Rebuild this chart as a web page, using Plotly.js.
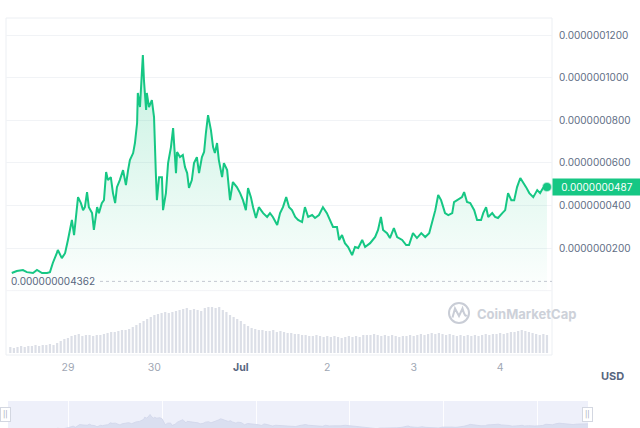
<!DOCTYPE html>
<html>
<head>
<meta charset="utf-8">
<script src="https://cdn.plot.ly/plotly-3.0.1.min.js"></script>
<style>html,body{margin:0;padding:0;background:#fff;}#chart{width:640px;height:428px;}</style>
</head>
<body>
<div id="chart"></div>
<script>
// ---- data (hours since 2023-06-28 00:00 UTC, price in units of 1e-9 USD) ----
const priceHours = [8.4,9.8,11.5,12.6,14.3,15.4,16.8,18.2,19.0,19.8,20.9,21.2,22.3,23.2,24.0,24.6,25.1,25.7,26.2,26.8,27.6,28.2,28.7,29.3,29.8,30.7,31.2,32.1,32.6,33.4,34.0,34.6,35.1,35.9,36.5,37.1,37.6,38.4,39.3,40.1,40.7,41.2,42.1,42.6,43.2,43.4,44.0,44.8,45.1,45.7,45.9,46.5,47.3,47.9,48.4,48.7,49.3,50.1,50.4,51.2,51.8,52.6,53.2,53.4,54.0,54.3,55.1,55.9,56.5,57.1,57.6,58.4,59.0,59.8,60.4,61.2,61.8,62.3,62.9,63.7,64.3,64.8,65.4,65.9,66.8,67.3,68.2,69.0,69.8,70.9,71.8,72.6,73.4,74.0,74.8,75.4,76.2,77.0,78.2,79.3,80.1,80.9,82.1,82.9,83.7,84.6,85.4,86.2,87.1,87.9,89.0,89.8,90.7,91.8,92.6,93.7,94.8,95.9,96.8,97.6,98.7,99.3,100.1,100.9,101.8,102.9,103.7,104.6,105.7,106.5,107.9,109.3,110.1,110.9,111.5,112.6,113.4,114.5,115.4,116.8,117.9,118.7,119.8,120.9,122.1,123.2,124.3,125.1,126.0,126.8,127.6,128.2,128.7,129.6,130.7,131.2,132.1,133.4,134.0,134.8,135.7,136.8,137.6,138.7,139.3,140.1,140.7,141.8,142.6,143.4,144.6,145.4,146.2,147.1,147.9,148.7,149.6,150.4,151.2,152.1,153.2,154.3,155.1,155.9,157.0];
const priceNano = [8.3,9.2,9.7,8.7,8.3,9.7,8.3,8.3,8.7,13.0,17.6,19.1,15.3,17.6,23.8,29.9,33.2,26.1,34.6,43.9,41.1,37.8,39.2,46.3,39.2,36.4,28.5,39.2,36.4,41.1,42.5,55.7,51.9,53.3,45.8,41.1,48.6,51.9,56.6,49.6,56.6,61.3,64.6,69.3,78.7,92.8,86.2,110.6,98.9,84.8,92.8,86.2,89.5,81.5,55.2,42.5,53.3,53.3,37.8,45.8,59.9,67.4,76.3,70.7,55.2,65.1,62.7,63.7,58.0,55.2,48.2,51.9,59.9,62.7,55.2,62.7,65.1,74.0,82.4,75.4,67.4,64.6,69.3,61.3,53.3,59.9,56.6,42.5,51.0,48.6,45.8,42.5,37.8,48.2,43.9,39.2,34.1,39.2,36.4,34.6,36.4,34.6,30.8,36.4,39.2,43.9,39.2,37.8,34.6,33.2,32.2,39.2,34.6,35.5,34.1,35.5,39.2,36.4,33.2,29.9,29.9,23.8,26.1,22.3,20.5,16.7,20.5,20.0,23.8,20.5,22.3,25.2,28.5,34.6,28.5,27.0,24.7,29.4,25.2,23.8,21.4,21.4,27.0,24.7,27.0,25.2,27.0,32.2,37.8,44.9,42.5,39.2,36.4,35.5,36.4,41.6,42.5,43.9,46.3,41.6,41.1,37.8,33.2,33.2,36.4,39.2,34.6,36.4,34.6,34.1,36.4,37.8,45.8,42.5,42.5,48.6,52.9,51.0,48.6,45.8,43.9,47.2,45.8,48.2,48.7];
// hourly volume bars (relative height), first bar at hour 8
const volumeStartHour = 8;
const volume = [6,5,6,7,6, 7,7,8,7,8, 8,9,8,10,12, 14,15,17,18,19, 17,18,18,17,18, 18,19,20,21,21,
  22,23,23,24,26, 28,30,32,34,36, 38,39,40,41,40, 41,42,43,44,45, 43,44,43,42,45, 46,46,45,46,43,
  41,38,36,34,32, 29,27,25,24,23, 23,22,22,23,21, 22,21,20,20,19, 19,18,18,17,17, 18,17,16,17,16,
  17,16,15,16,17, 16,17,16,18,18, 18,19,18,17,18, 17,18,17,16,17, 17,18,17,18,19, 18,19,20,19,20,
  19,18,19,18,17, 18,17,18,17,18, 17,18,19,18,19, 19,20,19,20,21, 21,22,23,22,21, 20,19,18,19,18];
const yTickNano = [20,40,60,80,100,120];
const dayTicks = ['2023-06-29','2023-06-30','2023-07-01','2023-07-02','2023-07-03','2023-07-04'];
const dayLabels = ['29','30','Jul','2','3','4'];
const lowValue = 4.362e-9;
const currency = 'USD';
const brand = 'CoinMarketCap';

// ---- helpers ----
const BASE = Date.UTC(2023,5,28);
const toDate = h => new Date(BASE + h*3600e3).toISOString().slice(0,19).replace('T',' ');
const n = Math.min(priceHours.length, priceNano.length);
const times = priceHours.slice(0,n).map(toDate);
const prices = priceNano.slice(0,n).map(v => v*1e-9);
const volTimes = volume.map((v,i) => toDate(volumeStartHour + i));
const lastPrice = prices[n-1];

const W = 640, H = 428, ML = 6, MR = 52, MT = 18, MB = 0;
const PW = W-ML-MR, PH = H-MT-MB;
const px = p => (p-ML)/PW;
const py = p => (H-MB-p)/PH;
const xEnd = px(552);
const yBot = py(355);

const green = '#16c784';
const font = 'Inter, "Noto Sans", sans-serif';

const traces = [
  {type:'bar', x:volTimes, y:volume, xaxis:'x', yaxis:'y2', width:2.2e6,
   marker:{color:'#dcdfe7', line:{width:0}}, hoverinfo:'skip'},
  {type:'scatter', mode:'lines', x:times, y:prices, xaxis:'x', yaxis:'y',
   line:{color:green, width:2, shape:'linear'}, fill:'tozeroy',
   fillgradient:{type:'vertical', start:0, stop:1.1e-7,
     colorscale:[[0,'rgba(22,199,132,0.01)'],[1,'rgba(22,199,132,0.24)']]},
   hoverinfo:'skip'},
  {type:'scatter', mode:'markers', x:[times[n-1]], y:[lastPrice], xaxis:'x', yaxis:'y',
   marker:{color:green, size:8, line:{color:'rgba(22,199,132,0.35)', width:2}}, hoverinfo:'skip'},
  {type:'scatter', mode:'lines', x:times, y:prices, xaxis:'x2', yaxis:'y3',
   line:{color:'#d0d6ea', width:0.8}, fill:'tozeroy', fillcolor:'#dadff0', hoverinfo:'skip'}
];

const layout = {
  width:W, height:H, margin:{l:ML, r:MR, t:MT, b:MB},
  paper_bgcolor:'#ffffff', plot_bgcolor:'rgba(0,0,0,0)', showlegend:false,
  font:{family:font},
  xaxis:{type:'date', domain:[0,xEnd], anchor:'y', range:[toDate(6.8), toDate(158.4)],
    tickvals:dayTicks,
    ticktext:dayLabels.map(t => t==='Jul' ? '<span style="color:#58667e"><b>Jul</b></span>' : t),
    tickfont:{size:10.5, color:'#a0a7b4', family:font}, ticks:'', showgrid:false, zeroline:false, showline:false,
    ticklabelstandoff:4, fixedrange:true},
  yaxis:{domain:[yBot,1], anchor:'x', side:'right', range:[-30.2e-9, 128e-9],
    tickvals:yTickNano.map(v=>v*1e-9), tickformat:'.10f',
    tickfont:{size:10, color:'#616e85', family:font}, ticks:'', ticklabelstandoff:6,
    showgrid:true, gridcolor:'#f1f3f6', gridwidth:1, zeroline:false, showline:false, fixedrange:true},
  yaxis2:{domain:[yBot, yBot+67.4/PH], anchor:'x', range:[-2, 65.4], visible:false, fixedrange:true},
  xaxis2:{type:'date', domain:[px(8),1], anchor:'y3', range:[times[0], times[n-1]],
    tickvals:dayTicks, showticklabels:false, ticks:'', showgrid:true, gridcolor:'rgba(255,255,255,0.85)',
    zeroline:false, showline:false, fixedrange:true},
  yaxis3:{domain:[0, py(401)], anchor:'x2', range:[21e-9, 200e-9], visible:false, showgrid:false, fixedrange:true},
  shapes:[
    {type:'rect', xref:'paper', yref:'paper', x0:0, x1:xEnd, y0:yBot, y1:1,
     line:{color:'#eceff3', width:1}, fillcolor:'rgba(0,0,0,0)', layer:'below'},
    {type:'line', xref:'paper', yref:'y', x0:0, x1:xEnd, y0:0, y1:0,
     line:{color:'#f3f4f7', width:1}, layer:'below'},
    {type:'line', xref:'paper', yref:'y', x0:px(100), x1:xEnd, y0:lowValue, y1:lowValue,
     line:{color:'#c3c8d1', width:1, dash:'dot'}},
    {type:'rect', xref:'paper', yref:'paper', x0:px(8), x1:1, y0:0, y1:py(401),
     line:{width:0}, fillcolor:'#eef0fa', layer:'below'},
    {type:'circle', xref:'paper', yref:'paper', x0:px(449), x1:px(469), y0:py(323), y1:py(303),
     line:{color:'#c9cdd6', width:2}},
    {type:'path', xref:'paper', yref:'paper',
     path:`M ${px(452.5)} ${py(317.5)} L ${px(455)} ${py(308.5)} L ${px(459)} ${py(316)} L ${px(462.5)} ${py(308.5)} Q ${px(465)} ${py(318)} ${px(467)} ${py(315)}`,
     line:{color:'#c9cdd6', width:2}}
  ],
  annotations:[
    {xref:'paper', yref:'y', x:px(9), y:lowValue, xanchor:'left', yanchor:'middle',
     text:lowValue.toFixed(12), showarrow:false, font:{size:10, color:'#58667e', family:font}},
    {xref:'paper', yref:'y', x:xEnd, y:lastPrice, xanchor:'left', yanchor:'middle',
     text:lastPrice.toFixed(10), showarrow:false, bgcolor:green, width:84, height:12, borderpad:2,
     align:'center', font:{size:10, color:'#ffffff', family:font}},
    {xref:'paper', yref:'paper', x:px(612), y:py(376), xanchor:'center', yanchor:'middle',
     text:'<b>'+currency+'</b>', showarrow:false, font:{size:11, color:'#58667e', family:font}},
    {xref:'paper', yref:'paper', x:px(475), y:py(313.5), xanchor:'left', yanchor:'middle',
     text:'<b>'+brand+'</b>', showarrow:false, font:{size:13, color:'#cdd1d9', family:font}},
    {xref:'paper', yref:'paper', x:px(5), y:py(414), xanchor:'center', yanchor:'middle',
     text:'||', showarrow:false, bgcolor:'#ffffff', bordercolor:'#d3d7e1', borderwidth:1, borderpad:2,
     font:{size:7, color:'#9aa1ae', family:font}},
    {xref:'paper', yref:'paper', x:px(587), y:py(414), xanchor:'center', yanchor:'middle',
     text:'||', showarrow:false, bgcolor:'#ffffff', bordercolor:'#d3d7e1', borderwidth:1, borderpad:2,
     font:{size:7, color:'#9aa1ae', family:font}}
  ]
};

Plotly.newPlot('chart', traces, layout, {staticPlot:true, displayModeBar:false});
</script>
</body>
</html>
